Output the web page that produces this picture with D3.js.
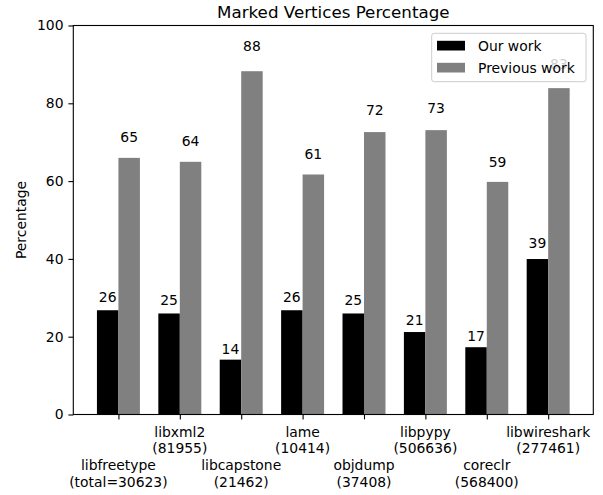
<!DOCTYPE html>
<html>
<head>
<meta charset="utf-8">
<script src="https://cdn.jsdelivr.net/npm/d3@7"></script>
<style>
  html, body { margin: 0; padding: 0; background: #fff; }
  text { font-family: "DejaVu Sans", sans-serif; fill: #000; }
</style>
</head>
<body>
<svg id="chart" width="603" height="495"></svg>
<script>
const categories = ["libfreetype", "libxml2", "libcapstone", "lame", "objdump", "libpypy", "coreclr", "libwireshark"];
const categoryTotals = ["(total=30623)", "(81955)", "(21462)", "(10414)", "(37408)", "(506636)", "(568400)", "(277461)"];
const ourWork = [26.8, 25.97, 14.1, 26.8, 25.97, 21.2, 17.3, 39.97];
const previousWork = [65.97, 64.96, 88.25, 61.7, 72.6, 73.1, 59.8, 83.9];
const ourLabels = ["26", "25", "14", "26", "25", "21", "17", "39"];
const prevLabels = ["65", "64", "88", "61", "72", "73", "59", "83"];
const yTicks = [0, 20, 40, 60, 80, 100];
const seriesNames = ["Our work", "Previous work"];
const seriesColors = ["#000000", "#808080"];

(function () {
const svg = d3.select("#chart");
const mLeft = 73.3, mRight = 593.3, mTop = 25.5, mBottom = 414.5;
const barW = 0.35;
const n = categories.length;
const pad = 0.05 * (n - 1 + 2 * barW);

const x = d3.scaleLinear().domain([-barW - pad, n - 1 + barW + pad]).range([mLeft, mRight]);
const y = d3.scaleLinear().domain([0, 100]).range([mBottom, mTop]);

const fs = 13.9;

// bars
const g = svg.append("g");
[ourWork, previousWork].forEach((vals, s) => {
  g.selectAll(null).data(vals).enter().append("rect")
    .attr("x", (d, i) => s === 0 ? x(i - barW) : x(i))
    .attr("width", (d, i) => x(i) - x(i - barW))
    .attr("y", d => y(d))
    .attr("height", d => y(0) - y(d))
    .attr("fill", seriesColors[s]);
});

// value labels
[[ourWork, ourLabels, -barW / 2], [previousWork, prevLabels, barW / 2]].forEach(([vals, labs, off]) => {
  g.selectAll(null).data(vals).enter().append("text")
    .attr("x", (d, i) => x(i + off))
    .attr("y", d => y(d * 1.05) - 3)
    .attr("text-anchor", "middle")
    .attr("font-size", fs)
    .text((d, i) => labs[i]);
});

// y axis
const yAxis = d3.axisLeft(y).tickValues(yTicks).tickSize(4.9).tickPadding(4.9).tickFormat(d3.format("d"));
const ya = svg.append("g").attr("transform", `translate(${mLeft},0)`).call(yAxis);
ya.select(".domain").remove();
ya.selectAll("text").attr("font-size", fs).attr("font-family", "DejaVu Sans").attr("fill", "#000");
ya.selectAll("line").attr("stroke", "#000").attr("stroke-width", 1.1);

// x axis
const xAxis = d3.axisBottom(x).tickValues(d3.range(n)).tickSize(4.9).tickFormat("");
const xa = svg.append("g").attr("transform", `translate(0,${mBottom})`).call(xAxis);
xa.select(".domain").remove();
xa.selectAll("line").attr("stroke", "#000").attr("stroke-width", 1.1);

const lineH = fs * 1.2;
categories.forEach((c, i) => {
  const base = mBottom + 4.9 + 4.9 + (i % 2 === 0 ? 2 * lineH : 0);
  const t = svg.append("text")
    .attr("x", x(i))
    .attr("text-anchor", "middle")
    .attr("font-size", fs);
  t.append("tspan").attr("x", x(i)).attr("y", base + 12.5).text(c);
  t.append("tspan").attr("x", x(i)).attr("y", base + 12.5 + lineH).text(categoryTotals[i]);
});

// spines
svg.append("rect")
  .attr("x", mLeft).attr("y", mTop)
  .attr("width", mRight - mLeft).attr("height", mBottom - mTop)
  .attr("fill", "none").attr("stroke", "#000").attr("stroke-width", 1.1);

// title
svg.append("text")
  .attr("x", (mLeft + mRight) / 2).attr("y", mTop - 8)
  .attr("text-anchor", "middle")
  .attr("font-size", 16.7)
  .text("Marked Vertices Percentage");

// y label
svg.append("text")
  .attr("transform", `translate(26,${(mTop + mBottom) / 2}) rotate(-90)`)
  .attr("text-anchor", "middle")
  .attr("font-size", fs)
  .text("Percentage");

// legend
const lg = svg.append("g");
lg.append("rect")
  .attr("x", 431.7).attr("y", 33.3)
  .attr("width", 586 - 431.7).attr("height", 81.7 - 33.3)
  .attr("rx", 2.5).attr("ry", 2.5)
  .attr("fill", "#fff").attr("fill-opacity", 0.8)
  .attr("stroke", "#cccccc").attr("stroke-width", 1);
seriesNames.forEach((s, i) => {
  const cy = 45.7 + i * 22;
  lg.append("rect")
    .attr("x", 437).attr("y", cy - 4.9)
    .attr("width", 28).attr("height", 9.7)
    .attr("fill", seriesColors[i]);
  lg.append("text")
    .attr("x", 478).attr("y", cy + 5)
    .attr("font-size", fs)
    .text(s);
});
})();
</script>
</body>
</html>
